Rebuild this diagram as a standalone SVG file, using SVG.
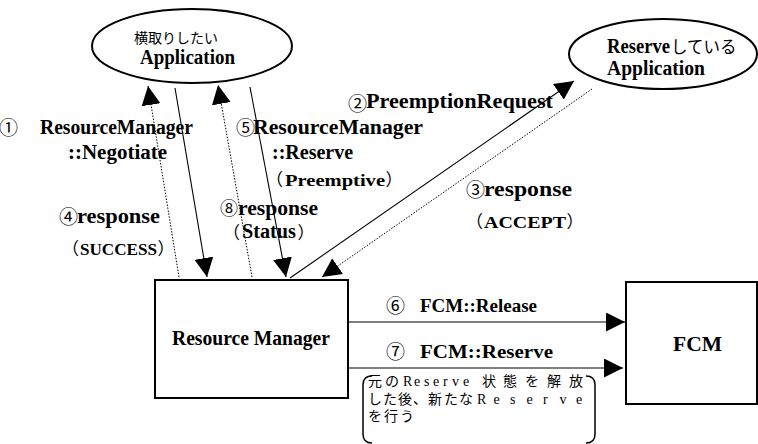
<svg xmlns="http://www.w3.org/2000/svg" width="758" height="444" viewBox="0 0 758 444">
  <defs>
    <style>
      .shape { fill: #fff; stroke: #000; stroke-width: 2; }
      .ln { fill: none; stroke: #000; stroke-width: 1.1; }
      .dot { fill: none; stroke: #000; stroke-width: 1; stroke-dasharray: 1.5 1.5; }
      .lb { font-family: "Liberation Serif", serif; font-weight: bold; font-size: 20px; fill: #000; }
      .jp { font-family: "Noto Sans CJK JP", sans-serif; font-weight: 400; fill: #000; }
      .num { font-family: "Noto Sans CJK JP", sans-serif; font-weight: 400; font-size: 19px; fill: #000; }
      .pn { font-family: "Noto Sans CJK JP", sans-serif; font-weight: 400; font-feature-settings: "palt"; }
      .note { font-size: 14px; fill: #000; }
      .note .s { font-family: "Liberation Serif", serif; }
      .note .j { font-family: "Noto Sans CJK JP", sans-serif; }
      .br { fill: none; stroke: #000; stroke-width: 1.5; }
    </style>
    <marker id="ah" viewBox="0 0 19 19" markerWidth="19" markerHeight="19" refX="19" refY="9.5" orient="auto" markerUnits="userSpaceOnUse">
      <path d="M0,0 L19,9.5 L0,19 Z" fill="#000"/>
    </marker>
  </defs>

  <!-- application that wants to pre-empt -->
  <g id="app-preempt">
    <ellipse class="shape" cx="192" cy="46" rx="100" ry="37"/>
    <text class="jp" x="134" y="43" font-size="14">横取りしたい</text>
    <text class="lb" x="140" y="64" textLength="95" lengthAdjust="spacingAndGlyphs">Application</text>
  </g>

  <!-- application holding the reservation -->
  <g id="app-reserved">
    <ellipse class="shape" cx="663" cy="54" rx="94" ry="35"/>
    <text class="lb" x="607" y="53" textLength="63" lengthAdjust="spacingAndGlyphs">Reserve</text>
    <text class="jp" x="671" y="53" font-size="16.5">している</text>
    <text class="lb" x="607" y="75" textLength="98" lengthAdjust="spacingAndGlyphs">Application</text>
  </g>

  <!-- Resource Manager -->
  <g id="resource-manager">
    <rect class="shape" x="155" y="280" width="193" height="118"/>
    <text class="lb" x="172" y="345" textLength="158" lengthAdjust="spacingAndGlyphs">Resource Manager</text>
  </g>

  <!-- FCM -->
  <g id="fcm">
    <rect class="shape" x="626" y="282" width="131" height="122"/>
    <text class="lb" x="673" y="351" style="font-size:22px" textLength="49" lengthAdjust="spacingAndGlyphs">FCM</text>
  </g>

  <!-- message flows -->
  <g id="connectors">
    <line class="dot" x1="179" y1="277" x2="148" y2="86" marker-end="url(#ah)"/>
    <line class="ln" x1="175" y1="88" x2="207" y2="277" marker-end="url(#ah)"/>
    <line class="dot" x1="252" y1="277" x2="218" y2="85" marker-end="url(#ah)"/>
    <line class="ln" x1="250" y1="87" x2="286" y2="277" marker-end="url(#ah)"/>
    <line class="ln" x1="290" y1="278" x2="574" y2="81" marker-end="url(#ah)"/>
    <line class="dot" x1="592" y1="89" x2="322" y2="277" marker-end="url(#ah)"/>
    <line class="ln" x1="348" y1="322" x2="625" y2="322" marker-end="url(#ah)"/>
    <line class="ln" x1="348" y1="368" x2="623" y2="368" marker-end="url(#ah)"/>
  </g>

  <!-- labels -->
  <g id="labels">
    <text class="num" x="-1" y="135">①</text>
    <text class="lb" x="40" y="134" textLength="153" lengthAdjust="spacingAndGlyphs">ResourceManager</text>
    <text class="lb" x="68" y="159" textLength="99" lengthAdjust="spacingAndGlyphs">::Negotiate</text>

    <text class="num" x="236" y="135">⑤</text>
    <text class="lb" x="253" y="134" textLength="170" lengthAdjust="spacingAndGlyphs">ResourceManager</text>
    <text class="lb" x="272" y="159">::Reserve</text>
    <text class="pn" x="274" y="186" font-size="17">（</text>
    <text class="lb" x="285" y="186" style="font-size:17px" textLength="100" lengthAdjust="spacingAndGlyphs">Preemptive</text>
    <text class="pn" x="386" y="186" font-size="17">）</text>

    <text class="num" x="348" y="111">②</text>
    <text class="lb" x="366" y="108" textLength="187" lengthAdjust="spacingAndGlyphs">PreemptionRequest</text>

    <text class="num" x="466" y="197">③</text>
    <text class="lb" x="484" y="196" textLength="88" lengthAdjust="spacingAndGlyphs">response</text>
    <text class="pn" x="474" y="228" font-size="17">（</text>
    <text class="lb" x="484" y="228" style="font-size:17px" textLength="82" lengthAdjust="spacingAndGlyphs">ACCEPT</text>
    <text class="pn" x="567" y="228" font-size="17">）</text>

    <text class="num" x="59" y="224">④</text>
    <text class="lb" x="77" y="223" textLength="83" lengthAdjust="spacingAndGlyphs">response</text>
    <text class="pn" x="70" y="255" font-size="17">（</text>
    <text class="lb" x="80" y="255" style="font-size:17px" textLength="77" lengthAdjust="spacingAndGlyphs">SUCCESS</text>
    <text class="pn" x="158" y="255" font-size="17">）</text>

    <text class="num" x="220" y="215" style="font-size:18px">⑧</text>
    <text class="lb" x="238" y="215" textLength="80" lengthAdjust="spacingAndGlyphs">response</text>
    <text class="pn" x="231" y="239" font-size="17">（</text>
    <text class="lb" x="242" y="238" textLength="54" lengthAdjust="spacingAndGlyphs">Status</text>
    <text class="pn" x="298" y="239" font-size="17">）</text>

    <text class="num" x="386" y="313">⑥</text>
    <text class="lb" x="420" y="312" style="font-size:18px" textLength="117" lengthAdjust="spacingAndGlyphs">FCM::Release</text>

    <text class="num" x="386" y="359">⑦</text>
    <text class="lb" x="420" y="358" style="font-size:18px" textLength="133" lengthAdjust="spacingAndGlyphs">FCM::Reserve</text>
  </g>

  <!-- bracketed note under step 7 -->
  <g id="note">
    <path class="br" d="M372,376 Q363,376 363,385 L363,434 Q363,443 372,443"/>
    <path class="br" d="M586,376 Q595,376 595,385 L595,434 Q595,443 586,443"/>
    <text class="note" y="386"><tspan class="j" x="368 385">元の</tspan><tspan class="s" x="403 414 424 433 443 452 463">Reserve</tspan><tspan class="j" x="482 503 525 547 569">状態を解放</tspan></text>
    <text class="note" y="404"><tspan class="j" x="368 383 398 413 428 444 459">した後、新たな</tspan><tspan class="s" x="477 493.5 510 526.5 543 559.5 576">Reserve</tspan></text>
    <text class="note" y="421"><tspan class="j" x="368 384 400">を行う</tspan></text>
  </g>
</svg>
